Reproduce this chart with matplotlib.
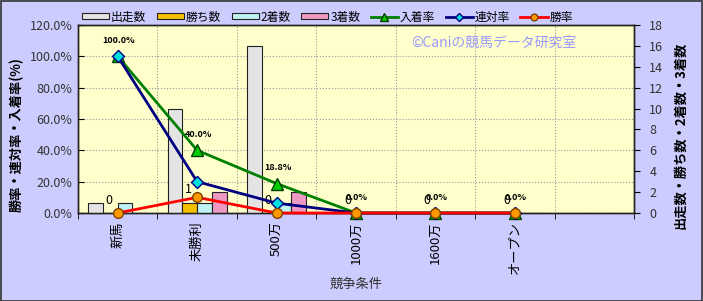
import matplotlib
matplotlib.use("Agg")
import matplotlib.pyplot as plt
import numpy as np

plt.rcParams['font.family'] = ['Noto Sans CJK JP', 'DejaVu Sans']

# --- データ ---
categories = ['新馬', '未勝利', '500万', '1000万', '1600万', 'オープン', '']
starts = [1, 10, 16, 0, 0, 0]      # 出走数
wins = [0, 1, 0, 0, 0, 0]          # 勝ち数
seconds = [1, 1, 1, 0, 0, 0]       # 2着数
thirds = [0, 2, 2, 0, 0, 0]        # 3着数
place_rate = [100.0, 40.0, 18.8, 0.0, 0.0, 0.0]   # 入着率
quinella_rate = [100.0, 20.0, 6.3, 0.0, 0.0, 0.0]  # 連対率
win_rate = [0.0, 10.0, 0.0, 0.0, 0.0, 0.0]        # 勝率

W, H = 703, 301
fig = plt.figure(figsize=(W / 100, H / 100), dpi=100, facecolor='#CCCCFF')
ax = fig.add_axes([78 / W, 1 - 213 / H, 556 / W, 188 / H])
ax.set_facecolor('#FFFFCC')
ax2 = ax.twinx()
ax3 = ax2.twinx()   # 折れ線用（棒より前面）

x = np.arange(len(starts))
bw = 0.185

# 棒グラフ（右軸）
bar_specs = [
    (starts, '#E4E4E4', '出走数'),
    (wins, '#F5C000', '勝ち数'),
    (seconds, '#BFF2F2', '2着数'),
    (thirds, '#EE99C4', '3着数'),
]
for i, (vals, col, lab) in enumerate(bar_specs):
    ax2.bar(x + (i - 1.5) * bw, vals, bw, color=col, edgecolor='#222222',
            linewidth=0.8, label=lab, zorder=2)

# 勝ち数のラベル
for xi, v in zip(x, wins):
    ax2.annotate(str(v), (xi - 0.5 * bw, v), xytext=(-1, 13), textcoords='offset pixels',
                 ha='center', va='center', fontsize=9, zorder=5)

# 折れ線（左軸と同じ目盛）
ax3.set_ylim(0, 120)
ax3.axis('off')
ax3.plot(x, place_rate, color='#008000', lw=2, marker='^', ms=8, mfc='#00CC00',
         mec='#004000', label='入着率', zorder=4, clip_on=False)
ax3.plot(x, quinella_rate, color='#000080', lw=2, marker='D', ms=6, mfc='#00E0E0',
         mec='#000080', label='連対率', zorder=4, clip_on=False)
ax3.plot(x, win_rate, color='#FF0000', lw=2, marker='o', ms=7, mfc='#FF9900',
         mec='#804000', label='勝率', zorder=4, clip_on=False)

for xi, v in zip(x, place_rate):
    ax3.annotate(f'{v:.1f}%', (xi, v), xytext=(1, 16), textcoords='offset pixels',
                 ha='center', va='center', fontsize=6.5, fontweight='bold', zorder=5)

# 軸
ax.set_xlim(-0.5, len(categories) - 0.5)
ax.set_ylim(0, 120)
ax.yaxis.tick_left()
ax.set_yticks(np.arange(0, 121, 20))
ax.set_yticklabels([f'{v:.1f}%' for v in np.arange(0, 121, 20)], fontsize=9, color='#333333')
ax.set_xticks(x)
ax.set_xticklabels(categories[:len(x)], rotation=90, fontsize=9.5, va='top')
ax.set_xticks(np.arange(-0.5, len(categories), 1), minor=True)
ax.tick_params(axis='x', which='major', length=0, pad=6)
ax.tick_params(axis='x', which='minor', length=4)
ax.tick_params(axis='y', length=4, direction='in', pad=4)
ax.grid(True, which='minor', axis='x', color='#999999', ls=':', lw=0.8)
ax.grid(True, which='major', axis='y', color='#999999', ls=':', lw=0.8)
ax.set_axisbelow(True)

ax2.set_ylim(0, 18)
ax2.yaxis.tick_right()
ax2.yaxis.set_label_position('right')
ax2.set_yticks(np.arange(0, 19, 2))
ax2.tick_params(axis='y', length=4, direction='out', labelsize=9, labelcolor='#333333', pad=7)

for a in (ax, ax2):
    for s in a.spines.values():
        s.set_color('#222222')
        s.set_linewidth(1)

ax.set_ylabel('勝率・連対率・入着率(%)', fontsize=9.5, fontweight='bold')
ax.yaxis.set_label_coords(-0.098, 0.415)
ax2.set_ylabel('出走数・勝ち数・2着数・3着数', fontsize=9.5, fontweight='bold', rotation=90)
ax2.yaxis.set_label_coords(1.07, 0.415)
ax.set_xlabel('競争条件', fontsize=9.5, color='#333333')
ax.xaxis.set_label_coords(0.5, -0.345)

# 透かし
ax.text(0.748, 0.905, '©Caniの競馬データ研究室', transform=ax.transAxes, ha='center',
        va='center', fontsize=10, color='#9999FF', zorder=6)

# 凡例
h2, l2 = ax2.get_legend_handles_labels()
h3, l3 = ax3.get_legend_handles_labels()
fig.legend(h2 + h3, l2 + l3, loc='center left', bbox_to_anchor=(82 / W, 1 - 17 / H),
           ncol=7, frameon=False, fontsize=8.5, handlelength=2.3, handleheight=0.45,
           handletextpad=0.15, columnspacing=0.9, borderaxespad=0, borderpad=0,
           markerscale=0.7)

# 外枠
fig.patches.append(plt.Rectangle((0.5 / W, 0.5 / H), 1 - 1.5 / W, 1 - 1.5 / H,
                                 transform=fig.transFigure, fill=False,
                                 edgecolor='#333333', lw=1.2))

fig.savefig('out.png', dpi=100, facecolor=fig.get_facecolor())
